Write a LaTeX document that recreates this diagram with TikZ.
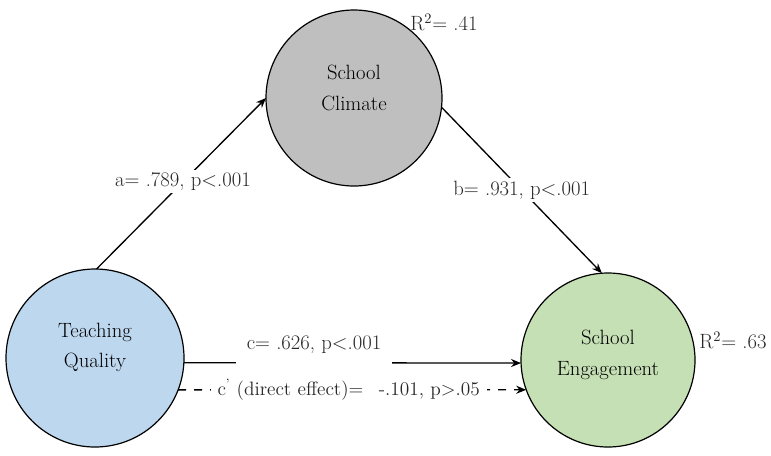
\documentclass[tikz,border=0pt]{standalone}
\usepackage{fontspec}
\usetikzlibrary{arrows.meta}
\definecolor{climfill}{RGB}{191,191,191}
\definecolor{teachfill}{RGB}{189,215,238}
\definecolor{engfill}{RGB}{197,224,180}
\definecolor{labelgray}{RGB}{40,40,40}
\begin{document}
\begin{tikzpicture}
  [x=0.75pt,y=-0.75pt,
   latent/.style={circle,draw=black,line width=0.9pt,minimum size=#1,inner sep=0pt,outer sep=0pt},
   vartext/.style={font=\fontsize{15.5}{23}\selectfont,align=center,text=black},
   coef/.style={fill=white,text=labelgray,font=\fontsize{15.5}{20}\selectfont,inner sep=2pt},
   rsq/.style={text=labelgray,font=\fontsize{15.5}{20}\selectfont,inner sep=0pt},
   effect/.style={line width=1pt,-{Stealth[length=7.5pt,width=6pt]}}]
\useasboundingbox (0,0) rectangle (771,455); % adjust bounding box
\node at (354,98) (clim) [latent=132pt, fill=climfill,
  label={[vartext,yshift=7.5pt]center:{School\\Climate}}] {};
\node at (95,358) (teach) [latent=133.5pt, fill=teachfill,
  label={[vartext,yshift=8pt]center:{Teaching\\Quality}}] {};
\node at (608,360) (eng) [latent=130.5pt, fill=engfill,
  label={[vartext,yshift=4pt]center:{School\\Engagement}}] {};
\node at (444,22) (r2clim) [rsq] {R\textsuperscript{2}= .41};
\node at (733,340) (r2eng) [rsq] {R\textsuperscript{2}= .63};
%
\draw [effect] (teach.89) -- (clim.180) node[pos=0.51,coef]{a= .789, p<.001};
\draw [effect] (clim.-6) -- (eng.94) node[pos=0.5,coef]{b= .931, p<.001};
%
\draw [effect] (teach.-3) -- (eng.182)
  node[pos=0.386,coef,anchor=base,yshift=10pt,text depth=13pt,inner xsep=8pt]{c= .626, p<.001};
\draw [effect, dash pattern=on 6pt off 6pt] (teach.-21) -- (eng.200)
  node[pos=0.49,coef,inner xsep=5pt,font=\fontsize{14.5}{18}\selectfont]
  {c\textsuperscript{'} (direct effect)=\hspace{0.8em}-.101, p>.05};
\end{tikzpicture}
\end{document}
